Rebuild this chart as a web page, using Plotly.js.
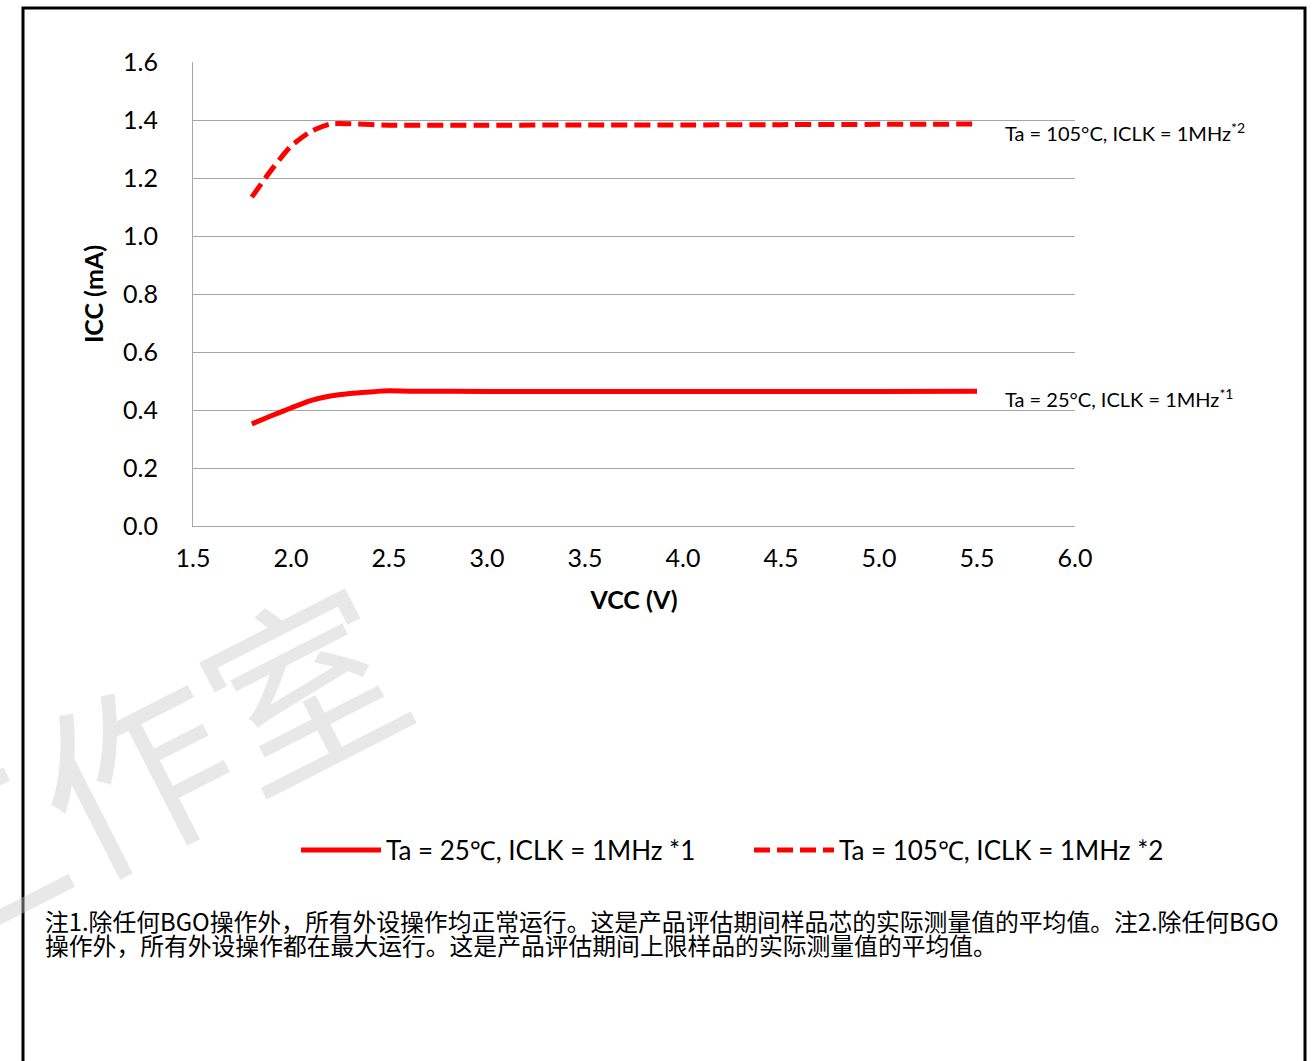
<!DOCTYPE html>
<html>
<head>
<meta charset="utf-8">
<script src="https://cdn.plot.ly/plotly-3.0.1.min.js"></script>
<style>
html,body{margin:0;padding:0;background:#fff;}
#chart{width:1315px;height:1061px;}
</style>
</head>
<body>
<div id="chart"></div>
<script>
// ---- data ----
const vcc25 = [1.8, 1.9, 2.0, 2.1, 2.2, 2.3, 2.4, 2.5, 2.6, 3.0, 3.5, 4.0, 4.5, 5.0, 5.5];
const icc25 = [0.352, 0.38, 0.407, 0.432, 0.448, 0.457, 0.462, 0.466, 0.465, 0.464, 0.464, 0.464, 0.464, 0.464, 0.465];
const vcc105 = [1.8, 1.9, 2.0, 2.1, 2.2, 2.3, 2.5, 3.0, 3.5, 4.0, 4.5, 5.0, 5.5];
const icc105 = [1.134, 1.228, 1.31, 1.36, 1.386, 1.387, 1.382, 1.382, 1.383, 1.383, 1.384, 1.385, 1.386];
const seriesNames = ['Ta = 25℃, ICLK = 1MHz *1', 'Ta = 105℃, ICLK = 1MHz *2'];
const seriesLabels = ['Ta = 25°C, ICLK = 1MHz<sup>*1</sup>', 'Ta = 105°C, ICLK = 1MHz<sup>*2</sup>'];
const xTitle = 'VCC (V)';
const yTitle = 'ICC (mA)';
const footnoteLines = [
  '注1.除任何BGO操作外，所有外设操作均正常运行。这是产品评估期间样品芯的实际测量值的平均值。注2.除任何BGO',
  '操作外，所有外设操作都在最大运行。这是产品评估期间上限样品的实际测量值的平均值。'
];
const watermark = '工作室';

// ---- layout geometry ----
const W = 1315, H = 1061;
const L = 193, R = 1075, T = 62, B = 526;
const px = x => (x - L) / (R - L);
const py = y => (B - y) / (B - T);

const font = 'Lato, "Noto Sans", "Noto Sans CJK SC", sans-serif';
const cjk = '"Noto Sans CJK SC", "Noto Sans", sans-serif';

const traces = [
  {x: vcc25, y: icc25, name: seriesNames[0], type: 'scatter', mode: 'lines', legend: 'legend',
   line: {color: '#ff0000', width: 5, shape: 'spline', smoothing: 0.6}},
  {x: vcc105, y: icc105, name: seriesNames[1], type: 'scatter', mode: 'lines', legend: 'legend2',
   line: {color: '#ff0000', width: 5, shape: 'spline', smoothing: 0.6, dash: '16px,7px'}}
];

const annotations = [
  {text: watermark, xref: 'paper', yref: 'paper', x: px(130), y: py(765),
   xanchor: 'center', yanchor: 'middle', showarrow: false, textangle: -27,
   font: {family: cjk, size: 190, color: 'rgba(200,200,200,0.42)'}},
  {text: seriesLabels[1], xref: 'paper', yref: 'paper', x: px(1003), y: py(132),
   xanchor: 'left', yanchor: 'middle', showarrow: false,
   font: {family: font, size: 20, color: '#000'}},
  {text: seriesLabels[0], xref: 'paper', yref: 'paper', x: px(1003), y: py(398),
   xanchor: 'left', yanchor: 'middle', showarrow: false,
   font: {family: font, size: 20, color: '#000'}}
];
footnoteLines.forEach((t, i) => annotations.push(
  {text: t, xref: 'paper', yref: 'paper', x: px(43), y: py(920 + 24 * i),
   xanchor: 'left', yanchor: 'middle', align: 'left', showarrow: false,
   font: {family: cjk, size: 23.8, color: '#000'}}));

const legendBase = {orientation: 'h', xref: 'container', yref: 'container',
  y: 1 - 850 / H, xanchor: 'left', yanchor: 'middle',
  font: {family: font, size: 26, color: '#000'}, itemwidth: 80, bgcolor: 'rgba(0,0,0,0)'};

const layout = {
  width: W, height: H,
  margin: {l: L, r: W - R, t: T, b: H - B, pad: 0},
  paper_bgcolor: '#ffffff', plot_bgcolor: '#ffffff',
  font: {family: font, color: '#000', size: 25},
  showlegend: true,
  legend: Object.assign({}, legendBase, {x: 296 / W}),
  legend2: Object.assign({}, legendBase, {x: 749 / W}),
  xaxis: {range: [1.5, 6.0], dtick: 0.5, tick0: 1.5, tickformat: '.1f', showgrid: false,
          zeroline: false, showline: true, linecolor: '#a6a6a6', linewidth: 1,
          ticks: '', ticklabelstandoff: 10, tickfont: {size: 25, family: font},
          title: {text: '<b>' + xTitle + '</b>', standoff: 20, font: {size: 25, family: font}},
          automargin: false, fixedrange: true},
  yaxis: {range: [0, 1.6], dtick: 0.2, tick0: 0, tickformat: '.1f', showgrid: true,
          gridcolor: '#a6a6a6', gridwidth: 1, zeroline: false, showline: true,
          linecolor: '#a6a6a6', linewidth: 1, ticks: '', ticklabelstandoff: 29,
          tickfont: {size: 25, family: font},
          title: {text: '<b>' + yTitle + '</b>', standoff: 12, font: {size: 25, family: font}},
          automargin: false, fixedrange: true},
  shapes: [
    {type: 'path', xref: 'paper', yref: 'paper',
     path: `M ${px(23)} ${py(1080)} L ${px(23)} ${py(8)} L ${px(1305)} ${py(8)} L ${px(1305)} ${py(1080)}`,
     line: {color: '#000', width: 3}}
  ],
  annotations: annotations
};

Plotly.newPlot('chart', traces, layout, {staticPlot: true, displayModeBar: false});
</script>
</body>
</html>
